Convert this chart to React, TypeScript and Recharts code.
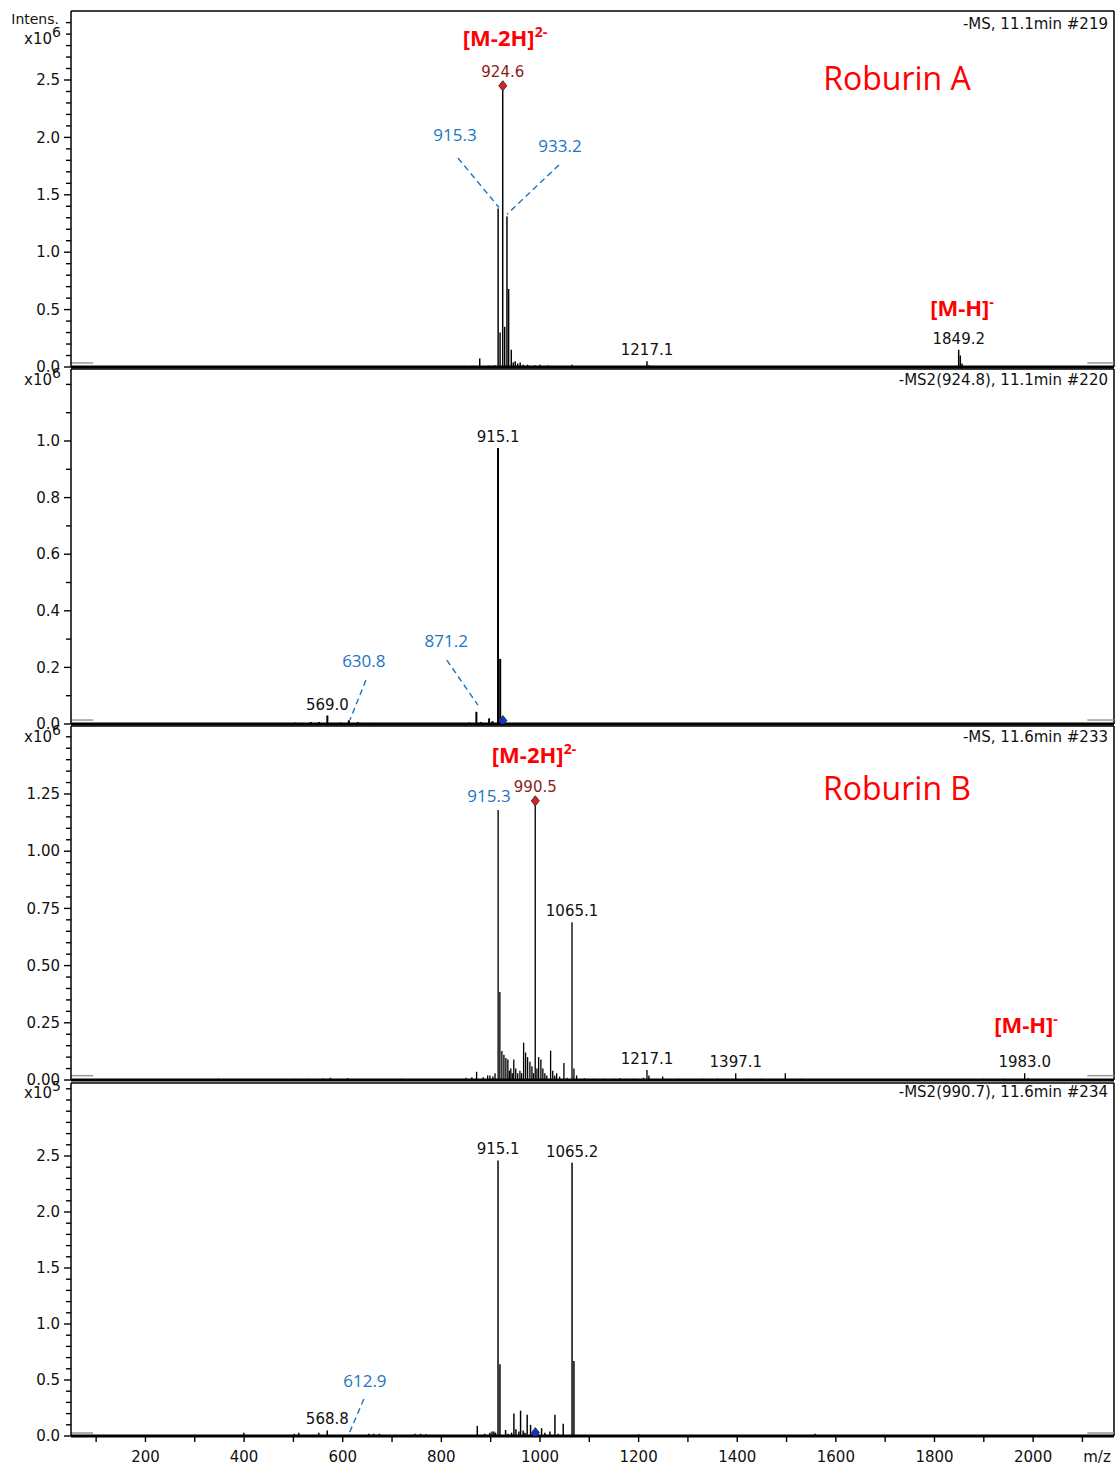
import React from 'react';
import { ComposedChart, Bar, XAxis, YAxis, ReferenceLine, ReferenceDot, Scatter } from 'recharts';

// ---------- shared axis data ----------
const MZ_RANGE: [number, number] = [49, 2164];
const X_TICKS = [100, 200, 300, 400, 500, 600, 700, 800, 900, 1000, 1100, 1200, 1300, 1400, 1500, 1600, 1700, 1800, 1900, 2000, 2100];
const X_LABELS = [200, 400, 600, 800, 1000, 1200, 1400, 1600, 1800, 2000];

// ---------- panel 1: -MS, 11.1min #219 (x10^6) ----------
const msA: number[][] = [
  [300, 0.004], [402, 0.004], [520, 0.006], [568, 0.006], [612, 0.005], [700, 0.004], [785, 0.005],
  [845, 0.006], [862, 0.01], [878, 0.075], [896, 0.012], [903, 0.01], [909, 0.015], [915.3, 1.38],
  [919.3, 0.3], [924.6, 2.45], [928.6, 0.35], [933.2, 1.31], [936.6, 0.68], [942, 0.15], [946, 0.04],
  [950, 0.05], [955, 0.03], [960, 0.04], [966, 0.02], [975, 0.02], [990, 0.015], [1000, 0.02],
  [1016, 0.012], [1065, 0.02], [1217.1, 0.05], [1221, 0.015], [1849.2, 0.15], [1852.5, 0.1],
  [1856, 0.03], [1875, 0.01], [1900, 0.008],
];
const msA_major = [0, 0.5, 1.0, 1.5, 2.0, 2.5];
const msA_ticks = [0, 0.1, 0.2, 0.3, 0.4, 0.5, 0.6, 0.7, 0.8, 0.9, 1.0, 1.1, 1.2, 1.3, 1.4, 1.5, 1.6, 1.7, 1.8, 1.9, 2.0, 2.1, 2.2, 2.3, 2.4, 2.5, 2.6, 2.7, 2.8, 2.9, 3.0];
const msA_labels = [
  { mz: 1217.1, i: 0.05, text: '1217.1' },
  { mz: 1849.2, i: 0.15, text: '1849.2' },
];
const msA_precursor = { mz: 924.6, i: 2.45, text: '924.6' };
const msA_blue = [
  { mz: 827.6, i: 2.02, text: '915.3' },
  { mz: 1040.6, i: 1.925, text: '933.2' },
];
const msA_leaders = [
  [833.7, 1.82, 916.8, 1.39],
  [1038.6, 1.76, 933.1, 1.33],
];

// ---------- panel 2: -MS2(924.8), 11.1min #220 (x10^6) ----------
const ms2A: number[][] = [
  [488, 0.004], [503, 0.005], [515, 0.004], [535.5, 0.007], [552, 0.007], [569.0, 0.03], [596, 0.005],
  [612.6, 0.013], [630.8, 0.007], [660.7, 0.004], [770, 0.003], [856.6, 0.005], [871.2, 0.043],
  [880, 0.007], [897, 0.02], [904, 0.01], [915.1, 0.975], [919.5, 0.23],
];
const ms2A_major = [0, 0.2, 0.4, 0.6, 0.8, 1.0];
const ms2A_ticks = [0, 0.1, 0.2, 0.3, 0.4, 0.5, 0.6, 0.7, 0.8, 0.9, 1.0, 1.1, 1.2];
const ms2A_labels = [
  { mz: 569.0, i: 0.03, text: '569.0' },
  { mz: 915.1, i: 0.975, text: '915.1' },
];
const ms2A_precursor = { mz: 924.8, i: 0.012 };
const ms2A_blue = [
  { mz: 642.8, i: 0.223, text: '630.8' },
  { mz: 810, i: 0.293, text: '871.2' },
];
const ms2A_leaders = [
  [647, 0.155, 614.6, 0.014],
  [811, 0.226, 874, 0.067],
];

// ---------- panel 3: -MS, 11.6min #233 (x10^6) ----------
const msB: number[][] = [
  [206, 0.004], [260, 0.004], [300, 0.004], [348, 0.006], [395, 0.005], [440, 0.004], [470, 0.004],
  [505, 0.006], [532, 0.005], [560, 0.008], [575, 0.01], [610, 0.008], [640, 0.005], [690, 0.004],
  [720, 0.005], [748, 0.004], [790, 0.005], [830, 0.006], [850, 0.01], [862, 0.012], [871.6, 0.036],
  [885, 0.012], [894, 0.02], [898.6, 0.02], [904.7, 0.015], [909, 0.03], [915.3, 1.18], [918.8, 0.385],
  [922.9, 0.127], [927, 0.11], [931, 0.096], [935, 0.09], [938, 0.04], [941, 0.05], [944, 0.03],
  [947, 0.09], [951, 0.05], [955, 0.03], [959.5, 0.04], [963, 0.03], [967, 0.163], [971, 0.12],
  [975, 0.1], [979.7, 0.08], [983.8, 0.06], [987, 0.03], [990.5, 1.22], [994, 0.05], [997.4, 0.1],
  [1002, 0.09], [1006, 0.05], [1010, 0.03], [1014, 0.02], [1021.7, 0.128], [1026, 0.04], [1030, 0.02],
  [1034, 0.03], [1040, 0.015], [1048.7, 0.074], [1055, 0.01], [1065.1, 0.69], [1069, 0.05],
  [1074.4, 0.02], [1090, 0.008], [1110, 0.006], [1130, 0.006], [1150, 0.006], [1162, 0.008],
  [1175, 0.006], [1190, 0.006], [1210, 0.01], [1217.1, 0.044], [1221, 0.02], [1249, 0.015],
  [1280, 0.006], [1300, 0.006], [1330, 0.006], [1360, 0.006], [1397.1, 0.03], [1420, 0.005],
  [1450, 0.005], [1497.6, 0.03], [1530, 0.005], [1560, 0.006], [1600, 0.004], [1650, 0.004],
  [1700, 0.004], [1760, 0.004], [1800, 0.005], [1850, 0.004], [1900, 0.006], [1940, 0.006],
  [1983.0, 0.03], [1990, 0.008],
];
const msB_major = [0, 0.25, 0.5, 0.75, 1.0, 1.25];
const msB_ticks = [0, 0.05, 0.1, 0.15, 0.2, 0.25, 0.3, 0.35, 0.4, 0.45, 0.5, 0.55, 0.6, 0.65, 0.7, 0.75, 0.8, 0.85, 0.9, 0.95, 1.0, 1.05, 1.1, 1.15, 1.2, 1.25, 1.3, 1.35, 1.4, 1.45, 1.5];
const msB_labels = [
  { mz: 1065.1, i: 0.69, text: '1065.1' },
  { mz: 1217.1, i: 0.044, text: '1217.1' },
  { mz: 1397.1, i: 0.03, text: '1397.1' },
  { mz: 1983.0, i: 0.03, text: '1983.0' },
];
const msB_precursor = { mz: 990.5, i: 1.22, text: '990.5' };
const msB_blue = [{ mz: 896.5, i: 1.241, text: '915.3' }];

// ---------- panel 4: -MS2(990.7), 11.6min #234 (x10^5) ----------
const ms2B: number[][] = [
  [300, 0.01], [350, 0.01], [399.6, 0.03], [441, 0.01], [502, 0.02], [511, 0.03], [551.6, 0.03],
  [568.8, 0.05], [580, 0.01], [612.9, 0.012], [653, 0.02], [663, 0.02], [674.5, 0.02], [700, 0.01],
  [722, 0.01], [746.5, 0.02], [758, 0.02], [769, 0.015], [790, 0.01], [841, 0.01], [856, 0.01],
  [873, 0.09], [888, 0.02], [898.6, 0.03], [902.8, 0.04], [906.7, 0.04], [910, 0.03], [915.1, 2.46],
  [919, 0.64], [930.4, 0.054], [935.7, 0.02], [942.6, 0.03], [947.3, 0.2], [951.4, 0.06], [957.4, 0.04],
  [960.8, 0.226], [966.1, 0.05], [969.6, 0.03], [974.2, 0.19], [981.1, 0.1], [985, 0.03], [990.7, 0.04],
  [996, 0.02], [1003.4, 0.07], [1010, 0.03], [1020.3, 0.04], [1030.5, 0.19], [1037, 0.02],
  [1047.3, 0.11], [1065.2, 2.44], [1069, 0.67], [1189.6, 0.01], [1200, 0.015], [1215, 0.01],
  [1255, 0.01], [1491, 0.01], [1558, 0.02],
];
const ms2B_major = [0, 0.5, 1.0, 1.5, 2.0, 2.5];
const ms2B_ticks = [0, 0.1, 0.2, 0.3, 0.4, 0.5, 0.6, 0.7, 0.8, 0.9, 1.0, 1.1, 1.2, 1.3, 1.4, 1.5, 1.6, 1.7, 1.8, 1.9, 2.0, 2.1, 2.2, 2.3, 2.4, 2.5, 2.6, 2.7, 2.8, 2.9, 3.0, 3.1];
const ms2B_labels = [
  { mz: 568.8, i: 0.05, text: '568.8' },
  { mz: 915.1, i: 2.46, text: '915.1' },
  { mz: 1065.2, i: 2.44, text: '1065.2' },
];
const ms2B_precursor = { mz: 990.7, i: 0.03 };
const ms2B_blue = [{ mz: 645, i: 0.49, text: '612.9' }];
const ms2B_leaders = [[642.9, 0.33, 612.5, 0.018]];

// ---------- layout / style ----------
const W = 1115;
const PLOT_L = 71;
const PAD = 2;
const PADB = 10;
const XAX_H = 30;
const BLUE = '#1b75c2';
const DARKRED = '#8e1b1b';
const RED = '#ff0000';
const SANS = 'DejaVu Sans';
const CAL = 'Open Sans';

type Lbl = { mz: number; i: number; text: string };

const toPeaks = (arr: number[][]) => arr.map(([mz, i]) => ({ mz, i }));

function Diamond(color: string) {
  return (p: any) => {
    const { cx, cy } = p;
    if (cx == null || cy == null) return <g />;
    return (
      <polygon
        points={`${cx},${cy - 5} ${cx + 4},${cy} ${cx},${cy + 5} ${cx - 4},${cy}`}
        fill={color}
        stroke="#333"
        strokeWidth={1}
      />
    );
  };
}

function Panel(props: {
  data: number[][];
  top: number;
  plotH: number;
  yMax: number;
  ticks: number[];
  majors: number[];
  decimals: number;
  showX?: boolean;
  labels: Lbl[];
  precursor?: { mz: number; i: number; text?: string };
  precursorColor: string;
  blue: Lbl[];
  leaders?: number[][];
  grayY: number;
}) {
  const { data, top, plotH, yMax, ticks, majors, decimals, showX, labels, precursor, precursorColor, blue, leaders, grayY } = props;
  const h = PAD + plotH + (showX ? XAX_H : PADB);
  const axisY = PAD + plotH;
  const yTick = (p: any) => {
    const v = p.payload.value;
    const isMajor = majors.some((m) => Math.abs(m - v) < 1e-6);
    return (
      <g>
        <line x1={PLOT_L - (isMajor ? 7 : 5)} x2={PLOT_L} y1={p.y} y2={p.y} stroke="#000" strokeWidth={1.4} />
        {isMajor && (
          <text x={PLOT_L - 11} y={p.y} dy="0.35em" textAnchor="end" fontSize={15} fontFamily={SANS} fill="#111">
            {v.toFixed(decimals)}
          </text>
        )}
      </g>
    );
  };
  const xTick = (p: any) => {
    const v = p.payload.value;
    return (
      <g>
        <line x1={p.x} x2={p.x} y1={axisY} y2={axisY + 6} stroke="#000" strokeWidth={1.4} />
        {X_LABELS.includes(v) && (
          <text x={p.x} y={axisY + 21} dy="0.35em" textAnchor="middle" fontSize={15} fontFamily={SANS} fill="#111">
            {v}
          </text>
        )}
      </g>
    );
  };
  const peaks = toPeaks(data);
  return (
    <div style={{ position: 'absolute', left: 0, top: top - PAD, width: W, height: h }}>
      <ComposedChart width={W} height={h} data={peaks} margin={{ top: PAD, right: 1, left: 0, bottom: showX ? 0 : PADB }}>
        <XAxis
          dataKey="mz"
          type="number"
          domain={MZ_RANGE}
          allowDataOverflow
          ticks={X_TICKS}
          interval={0}
          hide={!showX}
          height={XAX_H}
          tick={xTick}
          tickLine={false}
          axisLine={{ stroke: '#000', strokeWidth: 2 }}
        />
        <YAxis
          type="number"
          domain={[0, yMax]}
          allowDataOverflow
          ticks={ticks}
          interval={0}
          width={PLOT_L}
          tick={yTick}
          tickLine={false}
          axisLine={{ stroke: '#000', strokeWidth: 1.5 }}
        />
        <ReferenceLine y={yMax} stroke="#000" strokeWidth={1.5} />
        <ReferenceLine x={MZ_RANGE[1]} stroke="#000" strokeWidth={1.5} />
        <ReferenceLine segment={[{ x: MZ_RANGE[0], y: grayY }, { x: 94, y: grayY }]} stroke="#999" strokeWidth={1.5} />
        <ReferenceLine segment={[{ x: 2110, y: grayY }, { x: MZ_RANGE[1], y: grayY }]} stroke="#999" strokeWidth={1.5} />
        <Bar dataKey="i" fill="#000" barSize={2} isAnimationActive={false} />
        <ReferenceLine y={0} stroke="#000" strokeWidth={3} />
        {(leaders || []).map((l, k) => (
          <ReferenceLine
            key={'ld' + k}
            segment={[{ x: l[0], y: l[1] }, { x: l[2], y: l[3] }]}
            stroke={BLUE}
            strokeWidth={1.4}
            strokeDasharray="6 4"
          />
        ))}
        {labels.map((l, k) => (
          <ReferenceDot
            key={'lb' + k}
            x={l.mz}
            y={l.i}
            r={0}
            fill="none"
            stroke="none"
            label={{ value: l.text, position: 'top', offset: 6, fill: '#111', fontSize: 15, fontFamily: SANS }}
          />
        ))}
        {blue.map((l, k) => (
          <ReferenceDot
            key={'bl' + k}
            x={l.mz}
            y={l.i}
            r={0}
            fill="none"
            stroke="none"
            label={{ value: l.text, position: 'center', fill: BLUE, fontSize: 17, fontFamily: CAL }}
          />
        ))}
        {precursor && precursor.text && (
          <ReferenceDot
            x={precursor.mz}
            y={precursor.i}
            r={0}
            fill="none"
            stroke="none"
            label={{ value: precursor.text, position: 'top', offset: 9, fill: DARKRED, fontSize: 15, fontFamily: SANS }}
          />
        )}
        {precursor && (
          <Scatter data={[precursor]} dataKey="i" shape={Diamond(precursorColor)} isAnimationActive={false} />
        )}
      </ComposedChart>
    </div>
  );
}

function Txt(props: { x: number; y: number; anchor?: 'middle' | 'end'; style?: React.CSSProperties; children: React.ReactNode }) {
  const tx = props.anchor === 'end' ? '-100%' : '-50%';
  return (
    <div
      style={{
        position: 'absolute',
        left: props.x,
        top: props.y,
        transform: `translate(${tx}, -50%)`,
        whiteSpace: 'nowrap',
        lineHeight: 1,
        ...props.style,
      }}
    >
      {props.children}
    </div>
  );
}

const headerStyle: React.CSSProperties = { fontFamily: SANS, fontSize: 15, color: '#111' };
const expStyle: React.CSSProperties = { fontFamily: SANS, fontSize: 15, color: '#111' };
const ionStyle: React.CSSProperties = { fontFamily: CAL, fontSize: 22, fontWeight: 700, color: RED };
const nameStyle: React.CSSProperties = { fontFamily: CAL, fontSize: 32, color: RED };

function Exp(props: { n: number }) {
  return (
    <span>
      x10<sup style={{ fontSize: 14, verticalAlign: 'baseline', position: 'relative', top: -7 }}>{props.n}</sup>
    </span>
  );
}
function Ion(props: { base: string; charge: string }) {
  return (
    <span>
      {props.base}
      <sup style={{ fontSize: 14, verticalAlign: 'baseline', position: 'relative', top: -9 }}>{props.charge}</sup>
    </span>
  );
}

export default function App() {
  return (
    <div style={{ position: 'absolute', left: 0, top: 0, width: W, height: 1466, background: '#fff' }}>
      <Panel
        data={msA}
        top={11}
        plotH={356}
        yMax={356 / 114.8}
        ticks={msA_ticks}
        majors={msA_major}
        decimals={1}
        labels={msA_labels}
        precursor={msA_precursor}
        precursorColor="#e02020"
        blue={msA_blue}
        leaders={msA_leaders}
        grayY={0.035}
      />
      <Panel
        data={ms2A}
        top={369}
        plotH={355}
        yMax={355 / 283}
        ticks={ms2A_ticks}
        majors={ms2A_major}
        decimals={1}
        labels={ms2A_labels}
        precursor={ms2A_precursor}
        precursorColor="#1030d0"
        blue={ms2A_blue}
        leaders={ms2A_leaders}
        grayY={0.014}
      />
      <Panel
        data={msB}
        top={726}
        plotH={354}
        yMax={354 / 228.8}
        ticks={msB_ticks}
        majors={msB_major}
        decimals={2}
        labels={msB_labels}
        precursor={msB_precursor}
        precursorColor="#e02020"
        blue={msB_blue}
        grayY={0.019}
      />
      <Panel
        data={ms2B}
        top={1083}
        plotH={353}
        yMax={353 / 112}
        ticks={ms2B_ticks}
        majors={ms2B_major}
        decimals={1}
        showX
        labels={ms2B_labels}
        precursor={ms2B_precursor}
        precursorColor="#1030d0"
        blue={ms2B_blue}
        leaders={ms2B_leaders}
        grayY={0.027}
      />

      {/* axis titles and exponents */}
      <Txt x={59} y={19} anchor="end" style={{ fontFamily: SANS, fontSize: 14, color: '#111' }}>Intens.</Txt>
      <Txt x={61} y={39} anchor="end" style={expStyle}><Exp n={6} /></Txt>
      <Txt x={61} y={380} anchor="end" style={expStyle}><Exp n={6} /></Txt>
      <Txt x={61} y={737} anchor="end" style={expStyle}><Exp n={6} /></Txt>
      <Txt x={61} y={1093} anchor="end" style={expStyle}><Exp n={5} /></Txt>
      <Txt x={1097} y={1457} style={{ fontFamily: SANS, fontSize: 15, color: '#111' }}>m/z</Txt>

      {/* scan headers */}
      <Txt x={1108} y={24} anchor="end" style={headerStyle}>-MS, 11.1min #219</Txt>
      <Txt x={1108} y={380} anchor="end" style={headerStyle}>-MS2(924.8), 11.1min #220</Txt>
      <Txt x={1108} y={737} anchor="end" style={headerStyle}>-MS, 11.6min #233</Txt>
      <Txt x={1108} y={1092} anchor="end" style={headerStyle}>-MS2(990.7), 11.6min #234</Txt>

      {/* ion annotations */}
      <Txt x={505} y={37} style={ionStyle}><Ion base="[M-2H]" charge="2-" /></Txt>
      <Txt x={962} y={307} style={ionStyle}><Ion base="[M-H]" charge="-" /></Txt>
      <Txt x={534} y={754} style={ionStyle}><Ion base="[M-2H]" charge="2-" /></Txt>
      <Txt x={1026} y={1024} style={ionStyle}><Ion base="[M-H]" charge="-" /></Txt>
      <Txt x={897} y={78} style={nameStyle}>Roburin A</Txt>
      <Txt x={897} y={788} style={nameStyle}>Roburin B</Txt>
    </div>
  );
}
